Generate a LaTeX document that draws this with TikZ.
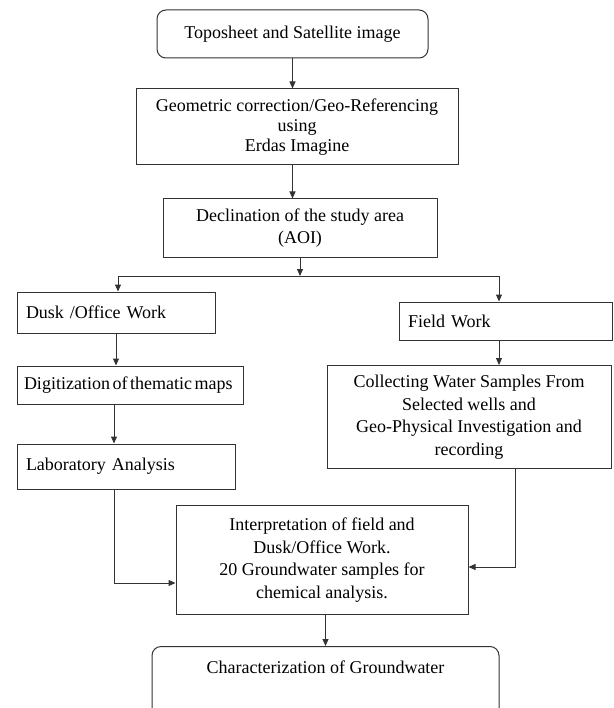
\documentclass[tikz,border=0pt]{standalone}
\usepackage{fontspec}
\setmainfont{Liberation Serif}
\usetikzlibrary{arrows.meta}

\begin{document}
\begin{tikzpicture}[x=1pt,y=-1pt,
	link/.style={draw=black!80,line width=1pt},
	arr/.style={link,-{Triangle[length=7pt,width=6pt]}},
	box/.style={link,inner sep=0pt,align=center,font=\fontsize{18}{22.5}\selectfont},
	lbox/.style={box,align=left,inner xsep=9pt},
	rbox/.style={box,rounded corners=9pt}]
	\useasboundingbox (0,0) rectangle (613,708);
	\node[rbox,minimum width=271,minimum height=48] (src) at (292.5,34) {Toposheet and Satellite image};
	\node[box,minimum width=322,minimum height=76,font=\fontsize{18}{20}\selectfont] (geo) at (297,127) {Geometric correction/Geo-Referencing\\using\\Erdas Imagine};
	\node[box,minimum width=274,minimum height=58] (aoi) at (300,228) {Declination of the study area\\(AOI)};
	\node[lbox,text width=180,minimum height=41] (desk) at (116,312.5) {Dusk /Office Work};
	\node[lbox,text width=195,minimum height=38] (field) at (505.5,321) {Field Work};
	\node[lbox,inner xsep=7pt,text width=212,minimum height=38] (digit) at (130,385) {\spaceskip=0.14em Digitization of thematic maps};
	\node[lbox,text width=200,minimum height=45] (lab) at (126,466.5) {Laboratory Analysis};
	\node[box,minimum width=284,minimum height=103] (coll) at (469,417) {Collecting Water Samples From\\Selected wells and\\Geo-Physical Investigation and\\recording};
	\node[box,minimum width=292,minimum height=109] (interp) at (322,560) {Interpretation of field and\\Dusk/Office Work.\\20 Groundwater samples for\\chemical analysis.};
	\node[rbox,minimum width=347,text height=27,text depth=47,anchor=north] (char) at (325.5,646) {Characterization of Groundwater};
	\coordinate (sl) at (118,276);
	\coordinate (sr) at (499,276);
	\coordinate (lx) at (114,583);
	\coordinate (rx) at (515,567);
	\draw[arr] (src.south) -- (src.south |- geo.north);
	\draw[arr] (geo.south -| src) -- (aoi.north -| src);
	\draw[arr] (aoi.south) -- (aoi.south |- sl);
	\draw[link] (sl) -- (sr);
	\draw[arr] (sl) -- (sl |- desk.north);
	\draw[arr] (sr) -- (sr |- field.north);
	\draw[arr] (desk.south) -- (desk.south |- digit.north);
	\draw[arr] (sr |- field.south) -- (sr |- coll.north);
	\draw[arr] (lx |- digit.south) -- (lx |- lab.north);
	\draw[arr] (lx |- lab.south) |- (interp.west |- lx);
	\draw[arr] (rx |- coll.south) |- (interp.east |- rx);
	\draw[arr] (interp.south -| char.north) -- (char.north);
\end{tikzpicture}
\end{document}
